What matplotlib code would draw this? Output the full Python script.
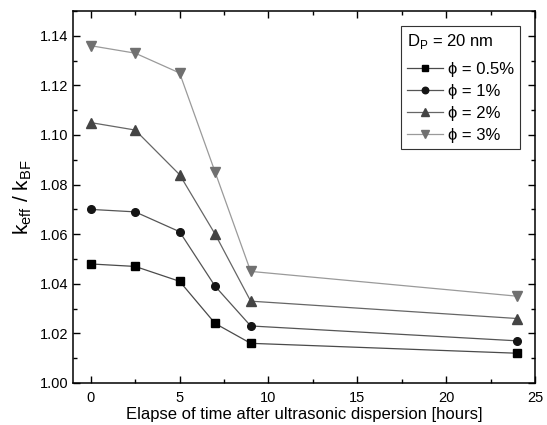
import matplotlib
matplotlib.use('Agg')
import matplotlib.pyplot as plt
from matplotlib.ticker import MultipleLocator, FormatStrFormatter

plt.rcParams['font.family'] = ['Liberation Sans', 'DejaVu Sans']

# Data
hours = [0, 2.5, 5, 7, 9, 24]
phi_05 = [1.048, 1.047, 1.041, 1.024, 1.016, 1.012]
phi_1 = [1.070, 1.069, 1.061, 1.039, 1.023, 1.017]
phi_2 = [1.105, 1.102, 1.084, 1.060, 1.033, 1.026]
phi_3 = [1.136, 1.133, 1.125, 1.085, 1.045, 1.035]
labels = ['\u03d5 = 0.5%', '\u03d5 = 1%', '\u03d5 = 2%', '\u03d5 = 3%']

series = [phi_05, phi_1, phi_2, phi_3]
markers = ['s', 'o', '^', 'v']
msizes = [5.3, 5.5, 7.2, 7.2]
colors = ['#000000', '#151515', '#444444', '#707070']
line_colors = ['#4a4a4a', '#555555', '#666666', '#9a9a9a']

fig = plt.figure(figsize=(5.47, 4.25), dpi=100)
ax = fig.add_axes([73 / 547, 1 - 383 / 425, (535 - 73) / 547, (383 - 11) / 425])

for y, m, ms, c, lc, lab in zip(series, markers, msizes, colors, line_colors, labels):
    ax.plot(hours, y, color=lc, lw=0.9, marker=m, markersize=ms,
            markerfacecolor=c, markeredgecolor=c, label=lab)

ax.set_xlim(-1, 25)
ax.set_ylim(1.00, 1.15)
ax.xaxis.set_major_locator(MultipleLocator(5))
ax.xaxis.set_minor_locator(MultipleLocator(2.5))
ax.yaxis.set_major_locator(MultipleLocator(0.02))
ax.yaxis.set_minor_locator(MultipleLocator(0.01))
ax.yaxis.set_major_formatter(FormatStrFormatter('%.2f'))
ax.tick_params(which='both', direction='in', top=True, right=True, labelsize=10.5)
ax.tick_params(which='major', length=5, width=1)
ax.tick_params(which='minor', length=3, width=1)
ax.tick_params(axis='x', pad=6)
for s in ax.spines.values():
    s.set_linewidth(1.1)

ax.set_xlabel('Elapse of time after ultrasonic dispersion [hours]', fontsize=12, labelpad=1)
ax.set_ylabel('k$_{\\mathregular{eff}}$ / k$_{\\mathregular{BF}}$', fontsize=15, labelpad=4)

leg = ax.legend(title='D$_\\mathregular{P}$ = 20 nm', loc='upper right',
                bbox_to_anchor=(0.968, 0.96), borderaxespad=0,
                fontsize=12, title_fontsize=12,
                fancybox=False, edgecolor='#333333', framealpha=1,
                handlelength=2.2, handletextpad=0.3, labelspacing=0.42,
                borderpad=0.35, markerscale=0.85)
leg._legend_box.align = 'left'
leg._legend_box.sep = 8
leg.get_frame().set_linewidth(0.8)

fig.savefig('out.png', dpi=100)
